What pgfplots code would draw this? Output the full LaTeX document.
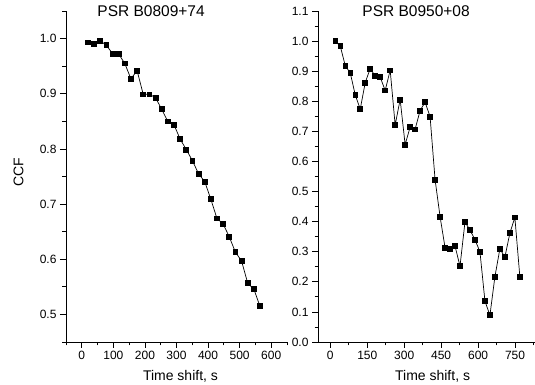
\documentclass[border=0pt]{standalone}
\usepackage{pgfplots}
\pgfplotsset{compat=1.18}
\usepackage{fontspec}
\setmainfont{Liberation Sans}
\pgfplotstableread{
x y
19.5 0.993
38.9 0.991
58.4 0.996
77.8 0.988
97.3 0.973
116.8 0.972
136.2 0.955
155.7 0.927
175.1 0.942
194.6 0.899
214.1 0.899
233.5 0.893
253.0 0.872
272.4 0.850
291.9 0.844
311.4 0.818
330.8 0.799
350.3 0.779
369.7 0.755
389.2 0.741
408.7 0.709
428.1 0.674
447.6 0.664
467.0 0.641
486.5 0.613
506.0 0.597
525.4 0.557
544.9 0.546
564.3 0.515
}\lefttable
\pgfplotstableread{
x y
20.25 1.000
40.5 0.983
60.75 0.918
81 0.894
101.25 0.821
121.5 0.774
141.75 0.862
162 0.909
182.25 0.884
202.5 0.880
222.75 0.836
243 0.903
263.25 0.721
283.5 0.806
303.75 0.656
324 0.714
344.25 0.707
364.5 0.769
384.75 0.797
405 0.749
425.25 0.540
445.5 0.417
465.75 0.314
486 0.310
506.25 0.319
526.5 0.252
546.75 0.399
567 0.372
587.25 0.340
607.5 0.300
627.75 0.136
648 0.089
668.25 0.217
688.5 0.310
708.75 0.282
729 0.362
749.25 0.414
769.5 0.217
}\righttable
\begin{document}
\begin{tikzpicture}[x=1pt,y=1pt]
\pgfplotsset{
 common/.style={
  scale only axis, height=331pt,
  axis x line*=bottom, axis y line*=left,
  axis line style={-, line width=0.8pt, black},
  tick align=outside,
  major tick length=6pt, minor tick length=3.5pt,
  every tick/.style={black, line width=0.8pt},
  tick label style={font=\fontsize{12}{14}\selectfont},
  label style={font=\fontsize{14}{16}\selectfont},
  every axis title/.style={anchor=base, font=\fontsize{15.5}{18}\selectfont},
  /pgf/number format/assume math mode=true,
  yticklabel style={/pgf/number format/.cd, fixed, fixed zerofill, precision=1},
  clip=false,
  xlabel={Time shift, s},
 }
}
\path[use as bounding box] (0,0) rectangle (535,385);
\begin{axis}[common, at={(66pt,43pt)}, anchor=south west, width=221pt,
  xmin=-50, xmax=650, ymin=0.45, ymax=1.05,
  xtick={0,100,...,600}, minor xtick={-50,50,150,250,350,450,550,650},
  ytick={0.5,0.6,0.7,0.8,0.9,1.0}, minor ytick={0.45,0.55,0.65,0.75,0.85,0.95,1.05},
  title={PSR B0809+74}, title style={at={(axis description cs:0.385,0.982)}},
  xlabel style={at={(axis description cs:0.518,-0.115)}, anchor=base},
  ylabel={CCF}, ylabel style={at={(axis description cs:-0.215,0.512)}, anchor=center},
]
\addplot[black, line width=0.7pt, mark=square*, mark size=2.4pt, mark options={solid, fill=black}] table {\lefttable};
\end{axis}
\begin{axis}[common, at={(318pt,43pt)}, anchor=south west, width=217pt,
  xmin=-50, xmax=831, ymin=0, ymax=1.1,
  xtick={0,150,...,750}, minor xtick={75,225,375,525,675,825},
  ytick={0,0.1,...,1.1}, minor ytick={0.05,0.15,0.25,0.35,0.45,0.55,0.65,0.75,0.85,0.95,1.05},
  title={PSR B0950+08}, title style={at={(axis description cs:0.452,0.982)}},
  xlabel style={at={(axis description cs:0.528,-0.115)}, anchor=base},
]
\addplot[black, line width=0.7pt, mark=square*, mark size=2.4pt, mark options={solid, fill=black}] table {\righttable};
\end{axis}
\end{tikzpicture}
\end{document}
